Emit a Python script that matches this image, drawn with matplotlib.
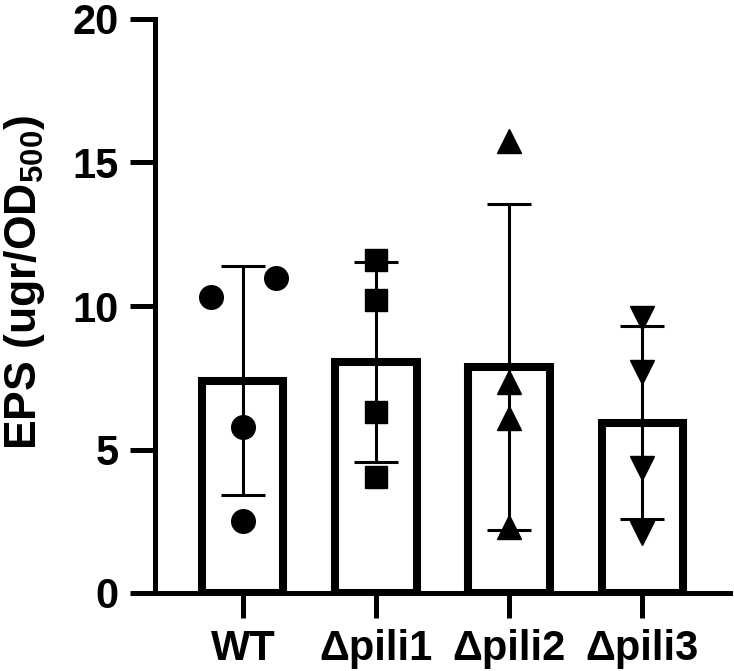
import numpy as np
import matplotlib
matplotlib.use("Agg")
import matplotlib.pyplot as plt

plt.rcParams['font.family'] = ['Liberation Sans', 'DejaVu Sans']
plt.rcParams['font.weight'] = 'bold'
plt.rcParams['mathtext.fontset'] = 'custom'
plt.rcParams['mathtext.rm'] = 'Liberation Sans:bold'
plt.rcParams['mathtext.bf'] = 'Liberation Sans:bold'

# groups and replicate values
groups = ["WT", "\u0394pili1", "\u0394pili2", "\u0394pili3"]
wt = [10.32, 10.97, 5.8, 2.52]
pili1 = [11.6, 10.2, 6.32, 4.05]
pili2 = [15.75, 7.36, 6.1, 2.31]
pili3 = [9.58, 7.71, 4.36, 2.09]
# small horizontal jitter used by the original for overlapping points
wt_dx = [-0.24, 0.25, 0.0, 0.0]
markers = ["o", "s", "^", "v"]
msizes = [17, 16, 17, 17]

data = [wt, pili1, pili2, pili3]
jit = [wt_dx, [0] * 4, [0] * 4, [0] * 4]
means = [np.mean(d) for d in data]
sds = [np.std(d, ddof=1) for d in data]
x = np.arange(len(groups))

fig = plt.figure(figsize=(7.34, 6.71), dpi=100)
ax = fig.add_axes([155 / 734, 78 / 671, 575 / 734, 574 / 671])

ax.bar(x, means, width=0.61, color="white", edgecolor="black",
       linewidth=5.8, zorder=1)
ax.errorbar(x, means, yerr=sds, fmt="none", ecolor="black", elinewidth=2.2,
            capsize=16, capthick=2.2, zorder=2)
for i in range(len(groups)):
    ax.plot(x[i] + np.array(jit[i]), data[i], linestyle="none",
            marker=markers[i], markersize=msizes[i], color="black",
            zorder=3, clip_on=False)

ax.set_xlim(-0.66, 3.66)
ax.set_ylim(0, 20)
ax.set_yticks([0, 5, 10, 15, 20])
ax.set_xticks(x)
ax.set_xticklabels(groups)
for s in ["top", "right"]:
    ax.spines[s].set_visible(False)
for s in ["left", "bottom"]:
    ax.spines[s].set_linewidth(3.6)
ax.tick_params(axis="both", length=18, width=3.6, labelsize=30)
ax.tick_params(axis="y", pad=8)
ax.tick_params(axis="x", pad=8)
for lab in ax.get_xticklabels() + ax.get_yticklabels():
    lab.set_fontweight("bold")

fig.text(25 / 734, 1 - 282 / 671, r"EPS (ugr/OD$_{500}$)", rotation=90,
         ha="center", va="center", fontsize=32, fontweight="bold")

fig.savefig("out.png", dpi=100)
